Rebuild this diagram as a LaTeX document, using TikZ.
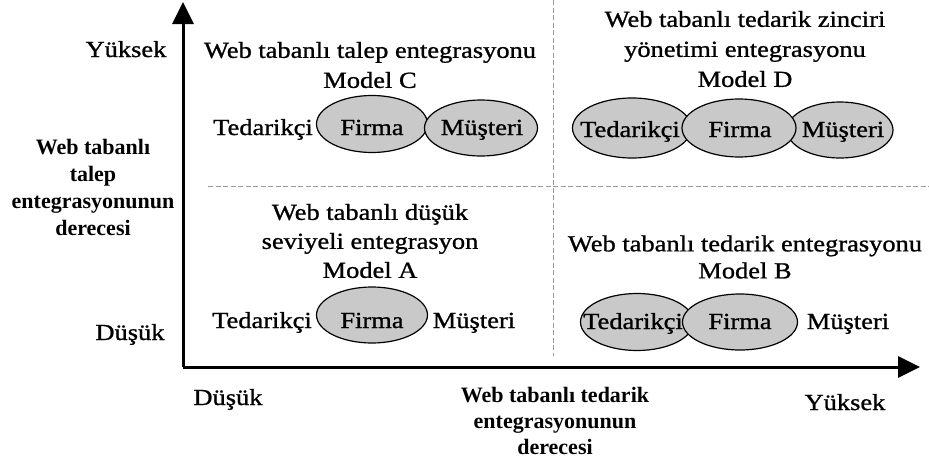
\documentclass[tikz,border=0pt]{standalone}
\usepackage{fontspec}
\setmainfont{Liberation Serif}
\newfontfamily\widef{Liberation Serif}[FakeStretch=1.15, FakeBold=1]
\usetikzlibrary{arrows.meta,shapes.geometric}
\begin{document}
\begin{tikzpicture}[x=1pt,y=-1pt,
  lbl/.style={font=\widef\fontsize{23}{30}\selectfont, inner sep=0pt, align=center},
  word/.style={font=\widef\fontsize{23}{30}\selectfont, inner sep=0pt, anchor=base},
  side/.style={font=\bfseries\fontsize{22}{27}\selectfont, inner sep=0pt, align=center},
  oval/.style={ellipse, draw=black, line width=1.2pt, fill=gray!42, inner sep=0pt},
  axis/.style={line width=3pt, -{Triangle[length=22pt,width=21pt]}},
  gridline/.style={draw=gray!80, line width=1pt, dash pattern=on 5pt off 2.5pt}]
\useasboundingbox (0,0) rectangle (929,463);

% axes
\coordinate (o) at (183,367);
\coordinate (ytop) at (183,2);
\coordinate (xend) at (920,367);
\coordinate (vt) at (553,0);
\coordinate (vb) at (553,356);
\coordinate (hl) at (208,186);
\coordinate (hr) at (929,186);
\draw[gridline] (vt) -- (vb);
\draw[gridline] (hl) -- (hr);
\draw[axis] (o) -- (ytop);
\draw[axis] (o) -- (xend);

% axis labels
\node[word] (yhigh) at (126,57) {Yüksek};
\node[word] (ylow) at (130,340) {Düşük};
\node[word] (xlow) at (228,405) {Düşük};
\node[word] (xhigh) at (845,410) {Yüksek};
\node[side] (ytitle) at (93,187) {Web tabanlı\\talep\\entegrasyonunun\\derecesi};
\node[side, font=\bfseries\fontsize{22}{26}\selectfont] (xtitle) at (555,421) {Web tabanlı tedarik\\entegrasyonunun\\derecesi};

% Model C
\node[lbl] (tC) at (370,65) {Web tabanlı talep entegrasyonu\\Model C};
\node[oval, minimum width=111pt, minimum height=57pt] (cF) at (372,124) {};
\node[oval, minimum width=113pt, minimum height=56pt] (cM) at (481,128) {};
\node[word] (cTt) at (263,135) {Tedarikçi};
\node[word] (cFt) at (372,135) {Firma};
\node[word] (cMt) at (482,135) {Müşteri};

% Model D
\node[lbl] (tD) at (745,49) {Web tabanlı tedarik zinciri\\yönetimi entegrasyonu\\Model D};
\node[oval, minimum width=119pt, minimum height=60pt] (dT) at (632,128) {};
\node[oval, minimum width=106pt, minimum height=56pt] (dM) at (840,130) {};
\node[oval, minimum width=114pt, minimum height=58pt] (dF) at (739,128) {};
\node[word] (dTt) at (630,137) {Tedarikçi};
\node[word] (dFt) at (740,137) {Firma};
\node[word] (dMt) at (843,137) {Müşteri};

% Model A
\node[lbl, font=\widef\fontsize{23}{29}\selectfont] (tA) at (370,241) {Web tabanlı düşük\\seviyeli entegrasyon\\Model A};
\node[oval, minimum width=111pt, minimum height=56pt] (aF) at (372,315) {};
\node[word] (aTt) at (262,328) {Tedarikçi};
\node[word] (aFt) at (372,328) {Firma};
\node[word] (aMt) at (474,328) {Müşteri};

% Model B
\node[lbl, font=\widef\fontsize{23}{27}\selectfont] (tB) at (745,257) {Web tabanlı tedarik entegrasyonu\\Model B};
\node[oval, minimum width=113pt, minimum height=57pt] (bT) at (637,322) {};
\node[oval, minimum width=115pt, minimum height=56pt] (bF) at (740,322) {};
\node[word] (bTt) at (633,329) {Tedarikçi};
\node[word] (bFt) at (740,329) {Firma};
\node[word] (bMt) at (848,329) {Müşteri};
\end{tikzpicture}
\end{document}
